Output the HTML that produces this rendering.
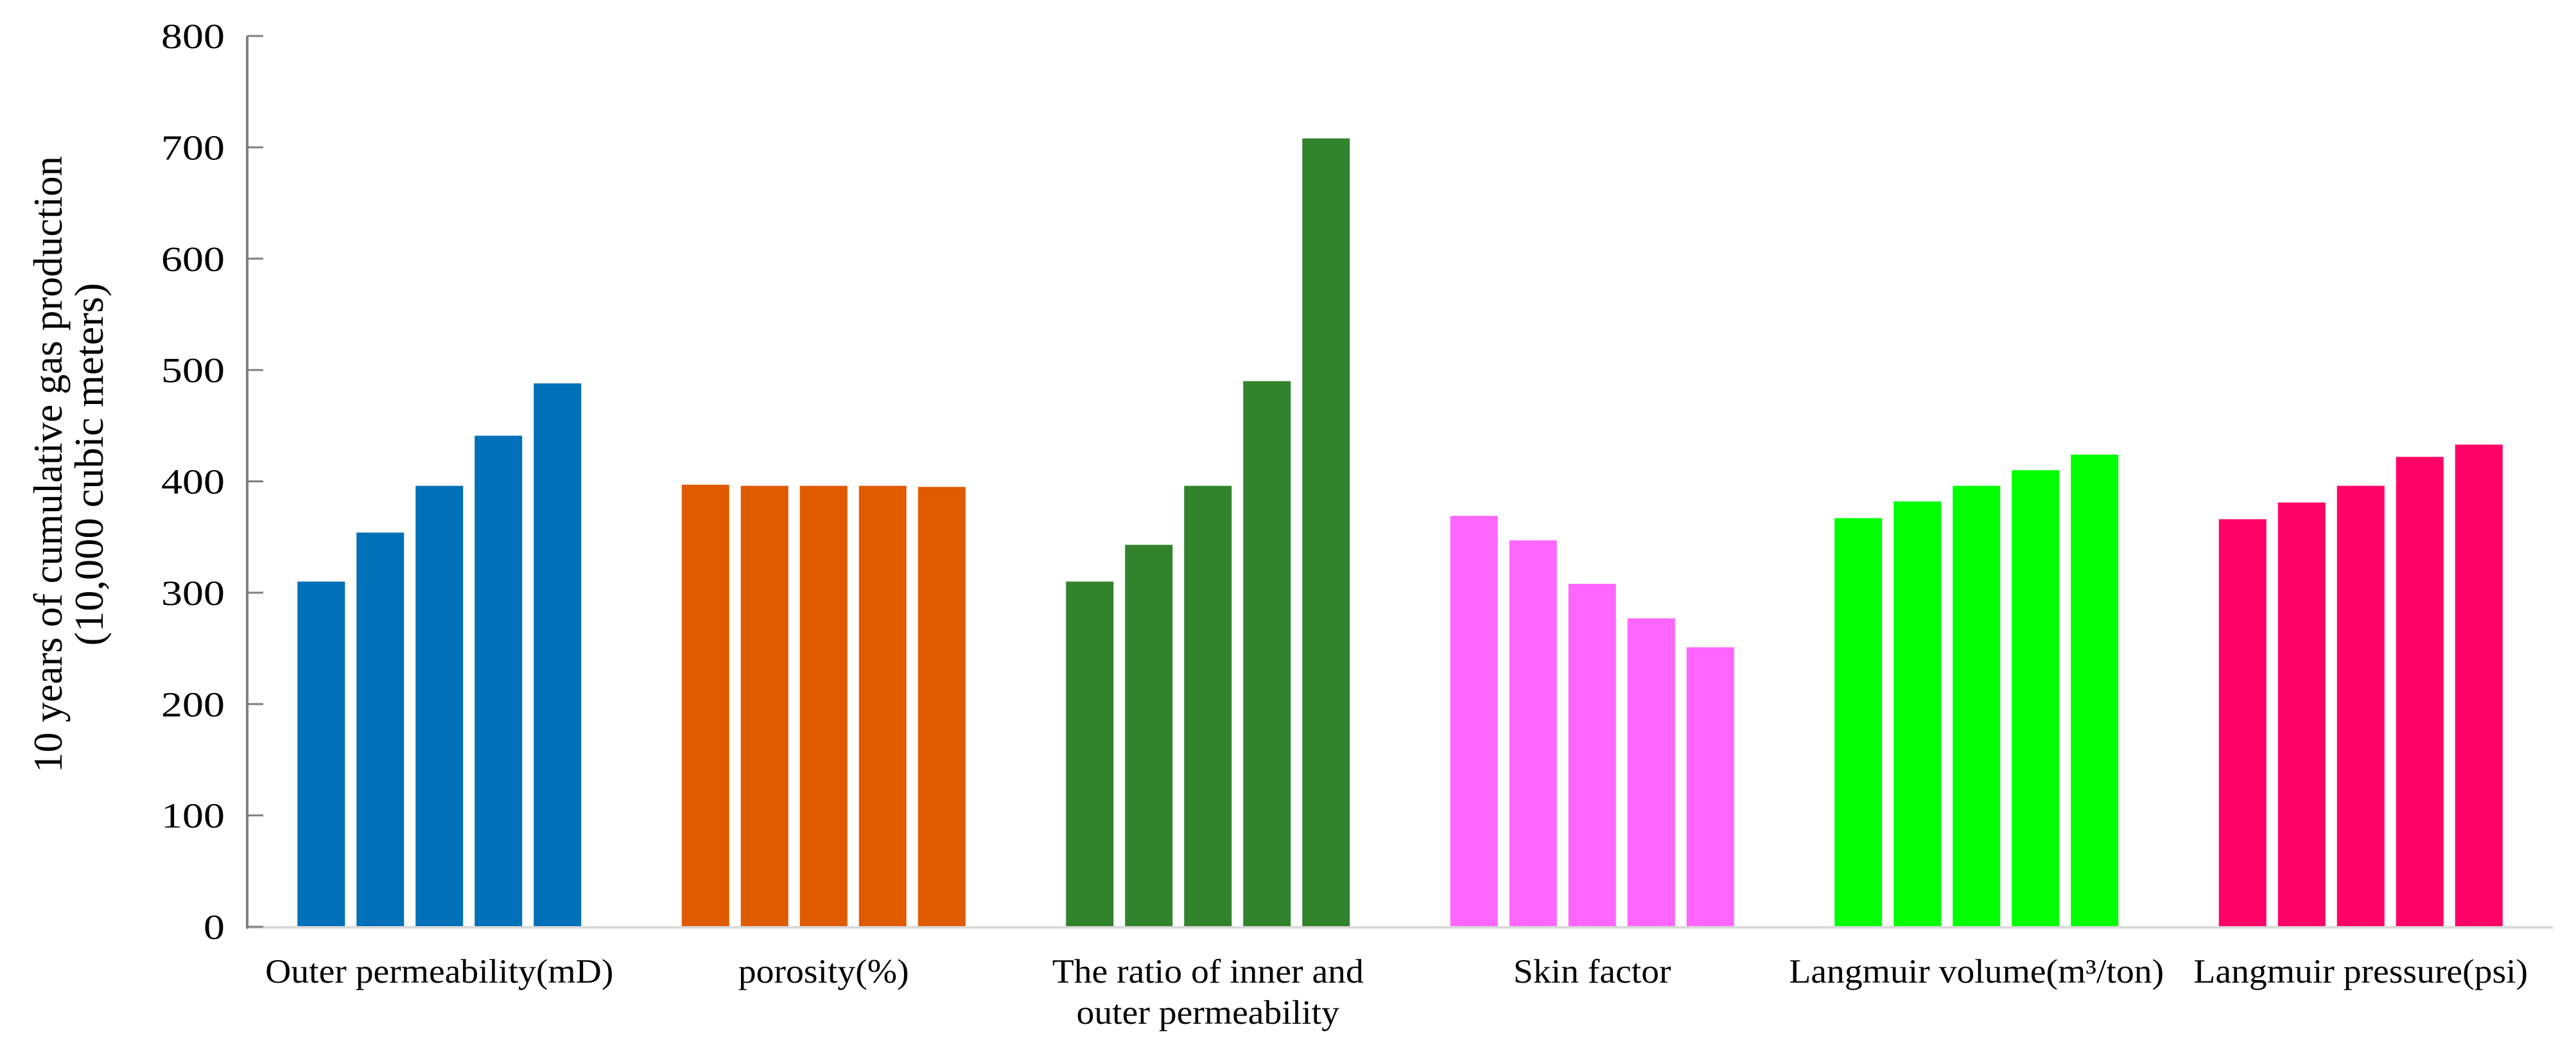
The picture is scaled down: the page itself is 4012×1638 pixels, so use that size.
<!DOCTYPE html>
<html><head><meta charset="utf-8"><style>
html,body{margin:0;padding:0;background:#fff;}
svg{display:block;font-family:"Liberation Serif",serif;}
</style></head><body>
<svg id="chart" width="4012" height="1638" viewBox="0 0 4012 1638" xmlns="http://www.w3.org/2000/svg">
<g id="bars"></g>
<g id="axes"></g>
<text transform="translate(96,723) rotate(-90)" font-size="64" text-anchor="middle" fill="#000" textLength="960" lengthAdjust="spacingAndGlyphs">10 years of cumulative gas production</text>
<text transform="translate(160,723) rotate(-90)" font-size="64" text-anchor="middle" fill="#000" textLength="565" lengthAdjust="spacingAndGlyphs">(10,000 cubic meters)</text>
</svg>
<script>
const categories = ["Outer permeability(mD)", "porosity(%)", "The ratio of inner and|outer permeability", "Skin factor", "Langmuir volume(m³/ton)", "Langmuir pressure(psi)"];
const outerPerm = [310, 354, 396, 441, 488];
const porosity = [397, 396, 396, 396, 395];
const ratioPerm = [310, 343, 396, 490, 708];
const skinFactor = [369, 347, 308, 277, 251];
const langVolume = [367, 382, 396, 410, 424];
const langPressure = [366, 381, 396, 422, 433];
const yTicks = [0, 100, 200, 300, 400, 500, 600, 700, 800];
const colors = ["#0070b8", "#e05a00", "#31832c", "#ff66ff", "#00ff00", "#ff0066"];
const series = [outerPerm, porosity, ratioPerm, skinFactor, langVolume, langPressure];

const NS = "http://www.w3.org/2000/svg";
const X0 = 385, CW = 598.5, Y0 = 1443, Y1 = 56, YMAX = 800;
const BW = 74, STEP = 92;
function y(v){ return Y0 - (v / YMAX) * (Y0 - Y1); }
function xc(i){ return X0 + (i + 0.5) * CW; }
function mk(tag, attrs){ const e = document.createElementNS(NS, tag); for (const k in attrs) e.setAttribute(k, attrs[k]); return e; }

const bars = document.getElementById('bars');
const axes = document.getElementById('axes');
series.forEach((vals, gi) => {
  vals.forEach((v, j) => {
    const cx = xc(gi) + (j - 2) * STEP;
    const r = mk('rect', {x: cx - BW/2, y: y(v), width: BW, height: Y0 - y(v), fill: colors[gi]});
    
    
    bars.appendChild(r);
  });
  const lines = categories[gi].split('|');
  const g = mk('g', {transform: 'translate(' + xc(gi) + ',1530) scale(1.05,1)'});
  const t = mk('text', {x: 0, y: 0, 'font-size': 53, 'text-anchor': 'middle', fill: '#000'});
  
  
  lines.forEach((ln, k) => {
    const ts = mk('tspan', {x: 0, dy: k === 0 ? 0 : 64});
    ts.textContent = ln;
    t.appendChild(ts);
  });
  g.appendChild(t);
  axes.appendChild(g);
});

const base = mk('line', {x1: X0, x2: X0 + 6 * CW, y1: Y0 + 1, y2: Y0 + 1, stroke: '#d9d9d9', 'stroke-width': 4});


axes.appendChild(base);
const yl = mk('line', {x1: X0, x2: X0, y1: Y1, y2: Y0 + 3, stroke: '#7f7f7f', 'stroke-width': 4});


axes.appendChild(yl);
yTicks.forEach(v => {
  const tk = mk('line', {x1: X0, x2: X0 + 25, y1: y(v), y2: y(v), stroke: '#7f7f7f', 'stroke-width': 3});
  
  
  axes.appendChild(tk);
  const g = mk('g', {transform: 'translate(350,' + (y(v) + 19) + ') scale(1.2,1)'});
  const lb = mk('text', {x: 0, y: 0, 'font-size': 55, 'text-anchor': 'end', fill: '#000'});
  
  
  lb.textContent = v;
  g.appendChild(lb);
  axes.appendChild(g);
});
</script>
</body></html>
